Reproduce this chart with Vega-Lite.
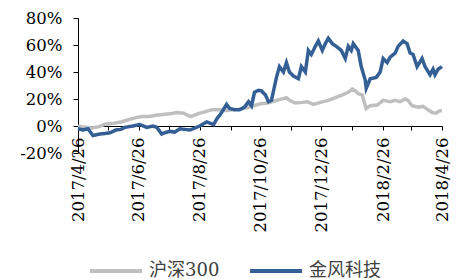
{
  "$schema": "https://vega.github.io/schema/vega-lite/v6.json",
  "autosize": {"type": "none"},
  "padding": {"left": 78, "top": 18, "right": 18, "bottom": 126},
  "width": 364,
  "height": 135,
  "background": "white",
  "config": {
    "view": {"stroke": null},
    "font": "DejaVu Serif",
    "axis": {"grid": false, "title": null, "labelFont": "DejaVu Serif", "labelFontSize": 16.5, "labelColor": "#000000", "domain": true, "ticks": true, "domainColor": "#000000", "tickColor": "#000000", "domainWidth": 1, "tickWidth": 1}
  },
  "data": {"values": [
    {"date": "2017/04/26", "series": "沪深300", "value": 0},
    {"date": "2017/05/03", "series": "沪深300", "value": -1},
    {"date": "2017/05/10", "series": "沪深300", "value": -1.5},
    {"date": "2017/05/17", "series": "沪深300", "value": -0.5},
    {"date": "2017/05/24", "series": "沪深300", "value": 1.5},
    {"date": "2017/06/01", "series": "沪深300", "value": 2},
    {"date": "2017/06/08", "series": "沪深300", "value": 3},
    {"date": "2017/06/15", "series": "沪深300", "value": 4.5},
    {"date": "2017/06/22", "series": "沪深300", "value": 6},
    {"date": "2017/06/29", "series": "沪深300", "value": 7},
    {"date": "2017/07/06", "series": "沪深300", "value": 7},
    {"date": "2017/07/13", "series": "沪深300", "value": 8},
    {"date": "2017/07/20", "series": "沪深300", "value": 8.5},
    {"date": "2017/07/27", "series": "沪深300", "value": 9},
    {"date": "2017/08/03", "series": "沪深300", "value": 10},
    {"date": "2017/08/10", "series": "沪深300", "value": 9.5},
    {"date": "2017/08/14", "series": "沪深300", "value": 8},
    {"date": "2017/08/17", "series": "沪深300", "value": 7},
    {"date": "2017/08/24", "series": "沪深300", "value": 9},
    {"date": "2017/08/31", "series": "沪深300", "value": 10.5},
    {"date": "2017/09/07", "series": "沪深300", "value": 12},
    {"date": "2017/09/14", "series": "沪深300", "value": 12},
    {"date": "2017/09/21", "series": "沪深300", "value": 11.5},
    {"date": "2017/09/28", "series": "沪深300", "value": 12},
    {"date": "2017/10/05", "series": "沪深300", "value": 12.5},
    {"date": "2017/10/12", "series": "沪深300", "value": 13.5},
    {"date": "2017/10/19", "series": "沪深300", "value": 15},
    {"date": "2017/10/26", "series": "沪深300", "value": 16.5},
    {"date": "2017/11/02", "series": "沪深300", "value": 17},
    {"date": "2017/11/09", "series": "沪深300", "value": 18.5},
    {"date": "2017/11/14", "series": "沪深300", "value": 19.5},
    {"date": "2017/11/21", "series": "沪深300", "value": 21},
    {"date": "2017/11/24", "series": "沪深300", "value": 19},
    {"date": "2017/11/30", "series": "沪深300", "value": 17},
    {"date": "2017/12/07", "series": "沪深300", "value": 17.5},
    {"date": "2017/12/12", "series": "沪深300", "value": 18},
    {"date": "2017/12/18", "series": "沪深300", "value": 16},
    {"date": "2017/12/25", "series": "沪深300", "value": 17.5},
    {"date": "2018/01/02", "series": "沪深300", "value": 19},
    {"date": "2018/01/09", "series": "沪深300", "value": 21},
    {"date": "2018/01/16", "series": "沪深300", "value": 23},
    {"date": "2018/01/22", "series": "沪深300", "value": 25},
    {"date": "2018/01/26", "series": "沪深300", "value": 27.5},
    {"date": "2018/01/29", "series": "沪深300", "value": 26},
    {"date": "2018/02/01", "series": "沪深300", "value": 24},
    {"date": "2018/02/05", "series": "沪深300", "value": 23},
    {"date": "2018/02/07", "series": "沪深300", "value": 18},
    {"date": "2018/02/09", "series": "沪深300", "value": 13},
    {"date": "2018/02/13", "series": "沪深300", "value": 15},
    {"date": "2018/02/20", "series": "沪深300", "value": 15.5},
    {"date": "2018/02/26", "series": "沪深300", "value": 19},
    {"date": "2018/03/05", "series": "沪深300", "value": 18},
    {"date": "2018/03/10", "series": "沪深300", "value": 19},
    {"date": "2018/03/15", "series": "沪深300", "value": 18},
    {"date": "2018/03/20", "series": "沪深300", "value": 20},
    {"date": "2018/03/23", "series": "沪深300", "value": 19},
    {"date": "2018/03/27", "series": "沪深300", "value": 15},
    {"date": "2018/04/02", "series": "沪深300", "value": 14},
    {"date": "2018/04/07", "series": "沪深300", "value": 14.5},
    {"date": "2018/04/11", "series": "沪深300", "value": 12.5},
    {"date": "2018/04/16", "series": "沪深300", "value": 10},
    {"date": "2018/04/20", "series": "沪深300", "value": 9.5},
    {"date": "2018/04/23", "series": "沪深300", "value": 11},
    {"date": "2018/04/26", "series": "沪深300", "value": 11.5},
    {"date": "2017/04/26", "series": "金风科技", "value": -2},
    {"date": "2017/05/01", "series": "金风科技", "value": -3},
    {"date": "2017/05/06", "series": "金风科技", "value": -2},
    {"date": "2017/05/11", "series": "金风科技", "value": -7},
    {"date": "2017/05/18", "series": "金风科技", "value": -6},
    {"date": "2017/05/23", "series": "金风科技", "value": -5.5},
    {"date": "2017/05/28", "series": "金风科技", "value": -5},
    {"date": "2017/06/03", "series": "金风科技", "value": -3},
    {"date": "2017/06/08", "series": "金风科技", "value": -2.5},
    {"date": "2017/06/12", "series": "金风科技", "value": -1},
    {"date": "2017/06/20", "series": "金风科技", "value": 0},
    {"date": "2017/06/27", "series": "金风科技", "value": 1},
    {"date": "2017/07/04", "series": "金风科技", "value": -1},
    {"date": "2017/07/10", "series": "金风科技", "value": 0},
    {"date": "2017/07/14", "series": "金风科技", "value": -1},
    {"date": "2017/07/19", "series": "金风科技", "value": -6},
    {"date": "2017/07/22", "series": "金风科技", "value": -5},
    {"date": "2017/07/27", "series": "金风科技", "value": -4},
    {"date": "2017/08/01", "series": "金风科技", "value": -4.5},
    {"date": "2017/08/06", "series": "金风科技", "value": -2},
    {"date": "2017/08/11", "series": "金风科技", "value": -2.5},
    {"date": "2017/08/16", "series": "金风科技", "value": -3},
    {"date": "2017/08/21", "series": "金风科技", "value": -1.5},
    {"date": "2017/08/26", "series": "金风科技", "value": 0},
    {"date": "2017/09/02", "series": "金风科技", "value": 3},
    {"date": "2017/09/09", "series": "金风科技", "value": 1},
    {"date": "2017/09/12", "series": "金风科技", "value": 5},
    {"date": "2017/09/17", "series": "金风科技", "value": 10},
    {"date": "2017/09/22", "series": "金风科技", "value": 16},
    {"date": "2017/09/25", "series": "金风科技", "value": 13},
    {"date": "2017/09/30", "series": "金风科技", "value": 12},
    {"date": "2017/10/05", "series": "金风科技", "value": 12},
    {"date": "2017/10/10", "series": "金风科技", "value": 14},
    {"date": "2017/10/14", "series": "金风科技", "value": 18},
    {"date": "2017/10/17", "series": "金风科技", "value": 15},
    {"date": "2017/10/20", "series": "金风科技", "value": 25},
    {"date": "2017/10/24", "series": "金风科技", "value": 26.5},
    {"date": "2017/10/27", "series": "金风科技", "value": 26},
    {"date": "2017/10/31", "series": "金风科技", "value": 23},
    {"date": "2017/11/03", "series": "金风科技", "value": 18},
    {"date": "2017/11/06", "series": "金风科技", "value": 19},
    {"date": "2017/11/11", "series": "金风科技", "value": 36},
    {"date": "2017/11/14", "series": "金风科技", "value": 44},
    {"date": "2017/11/18", "series": "金风科技", "value": 40},
    {"date": "2017/11/21", "series": "金风科技", "value": 47},
    {"date": "2017/11/24", "series": "金风科技", "value": 40},
    {"date": "2017/11/28", "series": "金风科技", "value": 37},
    {"date": "2017/12/03", "series": "金风科技", "value": 35},
    {"date": "2017/12/06", "series": "金风科技", "value": 44},
    {"date": "2017/12/10", "series": "金风科技", "value": 40},
    {"date": "2017/12/13", "series": "金风科技", "value": 56},
    {"date": "2017/12/16", "series": "金风科技", "value": 53},
    {"date": "2017/12/20", "series": "金风科技", "value": 59},
    {"date": "2017/12/23", "series": "金风科技", "value": 63},
    {"date": "2017/12/27", "series": "金风科技", "value": 56},
    {"date": "2017/12/30", "series": "金风科技", "value": 61},
    {"date": "2018/01/02", "series": "金风科技", "value": 65},
    {"date": "2018/01/06", "series": "金风科技", "value": 61},
    {"date": "2018/01/10", "series": "金风科技", "value": 59},
    {"date": "2018/01/15", "series": "金风科技", "value": 56},
    {"date": "2018/01/19", "series": "金风科技", "value": 50},
    {"date": "2018/01/22", "series": "金风科技", "value": 59},
    {"date": "2018/01/25", "series": "金风科技", "value": 56},
    {"date": "2018/01/27", "series": "金风科技", "value": 61},
    {"date": "2018/02/01", "series": "金风科技", "value": 56},
    {"date": "2018/02/04", "series": "金风科技", "value": 44},
    {"date": "2018/02/08", "series": "金风科技", "value": 34},
    {"date": "2018/02/09", "series": "金风科技", "value": 28},
    {"date": "2018/02/13", "series": "金风科技", "value": 35},
    {"date": "2018/02/19", "series": "金风科技", "value": 36},
    {"date": "2018/02/23", "series": "金风科技", "value": 40},
    {"date": "2018/02/26", "series": "金风科技", "value": 50},
    {"date": "2018/03/02", "series": "金风科技", "value": 47},
    {"date": "2018/03/05", "series": "金风科技", "value": 51},
    {"date": "2018/03/10", "series": "金风科技", "value": 54},
    {"date": "2018/03/13", "series": "金风科技", "value": 59},
    {"date": "2018/03/18", "series": "金风科技", "value": 63},
    {"date": "2018/03/22", "series": "金风科技", "value": 61},
    {"date": "2018/03/25", "series": "金风科技", "value": 54},
    {"date": "2018/03/28", "series": "金风科技", "value": 53},
    {"date": "2018/04/01", "series": "金风科技", "value": 44},
    {"date": "2018/04/06", "series": "金风科技", "value": 50},
    {"date": "2018/04/09", "series": "金风科技", "value": 44},
    {"date": "2018/04/14", "series": "金风科技", "value": 38},
    {"date": "2018/04/17", "series": "金风科技", "value": 42},
    {"date": "2018/04/19", "series": "金风科技", "value": 38},
    {"date": "2018/04/22", "series": "金风科技", "value": 42},
    {"date": "2018/04/26", "series": "金风科技", "value": 44}
  ]},
  "encoding": {
    "x": {
      "field": "date", "type": "temporal",
      "scale": {"domain": [{"year": 2017, "month": 4, "date": 26}, {"year": 2018, "month": 4, "date": 26}]},
      "axis": {
        "offset": -27,
        "domain": true,
        "domainColor": "#000000",
        "domainWidth": 1,
        "ticks": true,
        "tickColor": "#000000",
        "tickWidth": 1,
        "values": [
          {"year": 2017, "month": 4, "date": 26}, {"year": 2017, "month": 5, "date": 26},
          {"year": 2017, "month": 6, "date": 26}, {"year": 2017, "month": 7, "date": 26},
          {"year": 2017, "month": 8, "date": 26}, {"year": 2017, "month": 9, "date": 26},
          {"year": 2017, "month": 10, "date": 26}, {"year": 2017, "month": 11, "date": 26},
          {"year": 2017, "month": 12, "date": 26}, {"year": 2018, "month": 1, "date": 26},
          {"year": 2018, "month": 2, "date": 26}, {"year": 2018, "month": 3, "date": 26},
          {"year": 2018, "month": 4, "date": 26}
        ],
        "labelExpr": "month(datum.value) % 2 == 1 ? timeFormat(datum.value, '%Y/%-m/%-d') : ''",
        "labelAngle": -90,
        "labelOverlap": false,
        "labelFlush": false,
        "labelBound": false,
        "tickSize": 4,
        "labelPadding": 7
      }
    },
    "y": {
      "field": "value", "type": "quantitative",
      "scale": {"domain": [-20, 80], "nice": false, "zero": false},
      "axis": {
        "domain": true,
        "domainColor": "#000000",
        "domainWidth": 1,
        "ticks": true,
        "tickColor": "#000000",
        "tickWidth": 1,
        "values": [-20, 0, 20, 40, 60, 80],
        "labelExpr": "datum.value + '%'",
        "labelOverlap": false,
        "tickSize": 5,
        "labelPadding": 11
      }
    },
    "color": {
      "field": "series", "type": "nominal",
      "scale": {"domain": ["沪深300", "金风科技"], "range": ["#BFBFBF", "#335F95"]},
      "legend": {
        "title": null,
        "orient": "none",
        "direction": "horizontal",
        "legendX": 10,
        "legendY": 225,
        "symbolType": "stroke",
        "symbolSize": 2704,
        "symbolStrokeWidth": 4,
        "labelFont": "DejaVu Serif, Noto Sans CJK SC",
        "labelFontSize": 18,
        "labelColor": "#404040",
        "labelOffset": 5,
        "columnPadding": 22
      }
    }
  },
  "layer": [
    {"transform": [{"filter": "datum.series == '沪深300'"}], "mark": {"type": "line", "strokeWidth": 3.5}},
    {"transform": [{"filter": "datum.series == '金风科技'"}], "mark": {"type": "line", "strokeWidth": 3.5}}
  ]
}
